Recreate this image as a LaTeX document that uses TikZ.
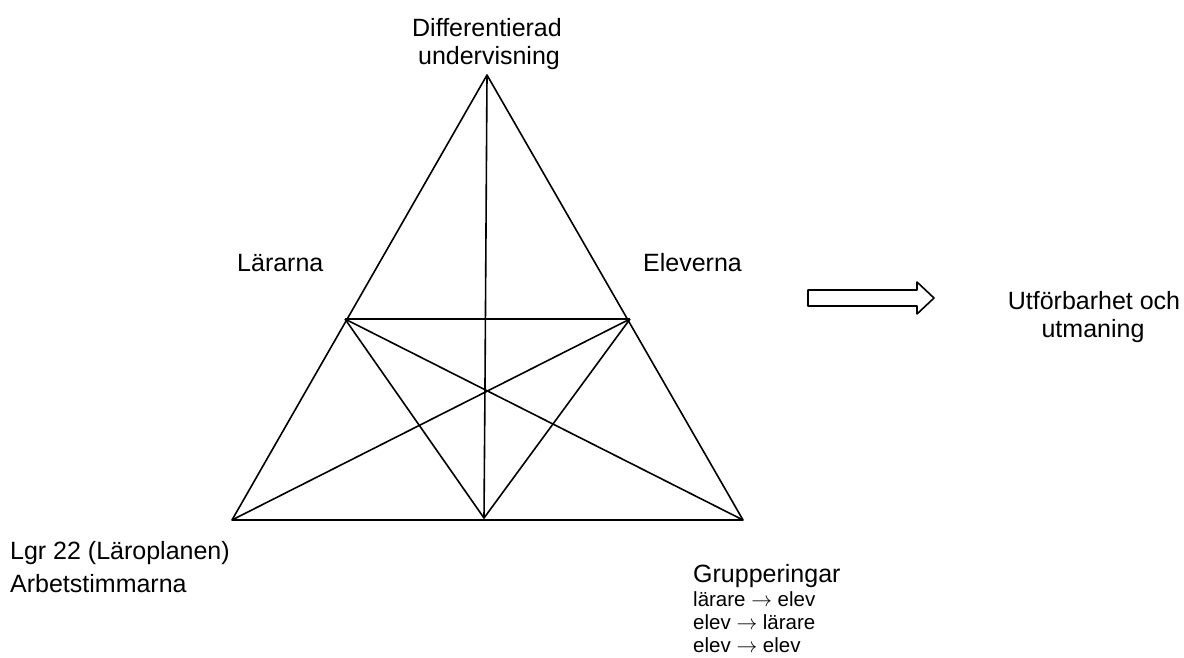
\documentclass[tikz,border=0pt]{standalone}
\usepackage{fontspec}
\setmainfont{Liberation Sans}
\usetikzlibrary{calc}
\tikzset{
  edge/.style={line width=1.6pt,line join=round},
  big/.style={inner sep=0pt,font=\fontsize{25}{28}\selectfont},
  small/.style={inner sep=0pt,font=\fontsize{20.5}{23}\selectfont},
}
\newcommand{\toarr}{ $\rightarrow$ }

\begin{document}
\begin{tikzpicture}[x=1pt,y=-1pt]
  \useasboundingbox (0,0) rectangle (1184,657);
  % corners and inner points
  \coordinate (top) at (487,75);
  \coordinate (bl) at (232,520);
  \coordinate (br) at (743,520);
  \coordinate (ml) at (345,319);
  \coordinate (mr) at (630,319);
  \coordinate (mb) at (484,518);
  \coordinate (ctr) at (485,385);
  % outer triangle
  \draw[edge] (top)--(bl)--(br)--cycle;
  % inner lines
  \draw[edge] (ml)--(mr);
  \draw[edge] (top)--(ctr)--(mb);
  \draw[edge] (ml)--(br);
  \draw[edge] (mr)--(bl);
  \draw[edge] (ml)--(mb)--(mr);
  % labels
  \node[big,anchor=base] (diff1) at (487,36){Differentierad};
  \node[big,anchor=base] (diff2) at (489,64){undervisning};
  \node[big,anchor=base west] (lar) at (237,271){Lärarna};
  \node[big,anchor=base west] (elev) at (643,271){Eleverna};
  \node[big,anchor=base west] (lgr) at (10,559){Lgr 22 (Läroplanen)};
  \node[big,anchor=base west] (arb) at (10,592){Arbetstimmarna};
  \node[big,anchor=base west] (grp) at (693,582){Grupperingar};
  \node[small,anchor=base west] (g1) at (693,606){lärare\toarr elev};
  \node[small,anchor=base west] (g2) at (693,629){elev\toarr lärare};
  \node[small,anchor=base west] (g3) at (693,652){elev\toarr elev};
  \node[big,anchor=base] (utf1) at (1094,309){Utförbarhet och};
  \node[big,anchor=base] (utf2) at (1093,337){utmaning};
  % block arrow
  \draw[edge] (808,290)--(917,290)--(917,282)--(934,298)--(917,314)--(917,306)--(808,306)--cycle;
\end{tikzpicture}
\end{document}
